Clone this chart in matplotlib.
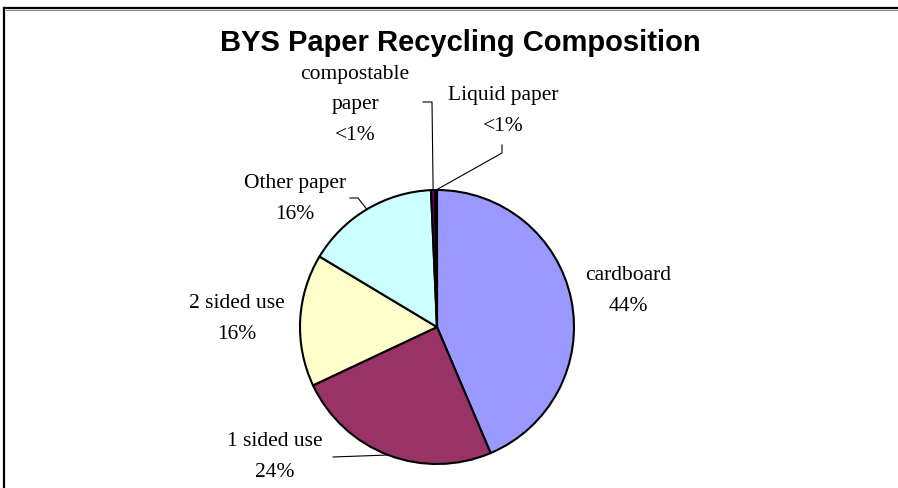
import numpy as np
import matplotlib
matplotlib.use("Agg")
import matplotlib.pyplot as plt

# slice data, clockwise from 12 o'clock
labels = ["cardboard", "1 sided use", "2 sided use", "Other paper", "compostable\npaper", "Liquid paper"]
values = [43.6, 24.4, 15.6, 15.7, 0.5, 0.2]
colors = ["#9999FF", "#993366", "#FFFFCC", "#CCFFFF", "#660066", "#000000"]
title = "BYS Paper Recycling Composition"

W, H = 898, 488
fig = plt.figure(figsize=(W / 100, H / 100), dpi=100)
ax = fig.add_axes([0, 0, 1, 1])

# pie position in pixels (y measured from the top)
cx, cy, r = 437, 327, 137

wedges, _ = ax.pie(values, colors=colors, startangle=90, counterclock=False,
                   center=(cx, H - cy), radius=r,
                   wedgeprops=dict(edgecolor="black", linewidth=1.5))
ax.set_xlim(0, W)
ax.set_ylim(0, H)
ax.set_aspect("equal")
ax.axis("off")


def pct(v):
    return "<1%" if v < 1 else "%d%%" % round(v)


def edge_point(w):
    a = np.deg2rad((w.theta1 + w.theta2) / 2)
    return cx + r * np.cos(a), (H - cy) + r * np.sin(a)


# label centres (pixels from top-left) and leader start points
label_pos = [(628, 291), (275, 457), (237, 319), (295, 199), (355, 105), (503, 111)]
leaders = [None, [(333, 457)], None, [(350, 198), (358, 198)],
           [(423, 102), (432, 102)], [(502, 145), (502, 153)]]

for w, lab, v, pos, ld in zip(wedges, labels, values, label_pos, leaders):
    ax.text(pos[0], H - pos[1], lab + "\n" + pct(v), ha="center", va="center",
            fontsize=15.5, family="Liberation Serif", linespacing=1.8)
    if ld:
        ex, ey = edge_point(w)
        xs = [p[0] for p in ld] + [ex]
        ys = [H - p[1] for p in ld] + [ey]
        ax.plot(xs, ys, color="black", lw=0.8)

ax.text(460, H - 43, title, ha="center", va="center", fontsize=21,
        fontweight="bold", family="Liberation Sans")

# chart frame (only top and left visible)
ax.plot([4, 4], [-5, H - 8], color="black", lw=1.6, clip_on=False)
ax.plot([4, W + 5], [H - 8, H - 8], color="black", lw=1.6, clip_on=False)
ax.plot([6, W + 5], [H - 10, H - 10], color="#888888", lw=0.8, clip_on=False)

fig.savefig("out.png", dpi=100, facecolor="white")
